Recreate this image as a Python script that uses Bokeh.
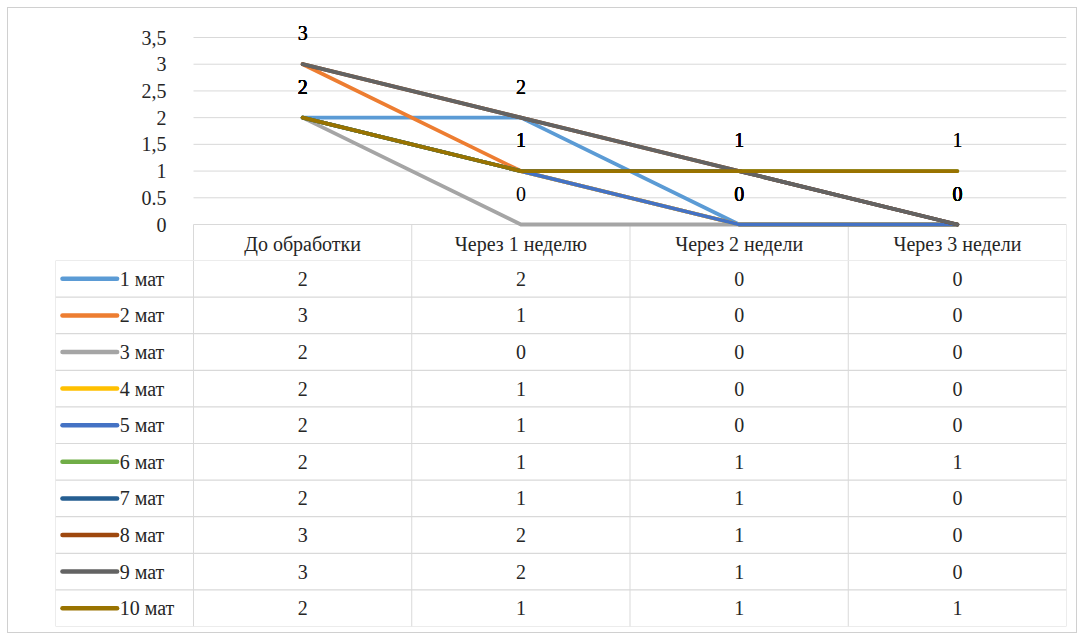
from bokeh.plotting import figure
from bokeh.layouts import column
from bokeh.models import Range1d, FixedTicker, ColumnDataSource
from bokeh.core.properties import value
from bokeh.embed import file_html
from bokeh.resources import INLINE

categories = ["До обработки", "Через 1 неделю", "Через 2 недели", "Через 3 недели"]
series_names = ["1 мат", "2 мат", "3 мат", "4 мат", "5 мат", "6 мат", "7 мат", "8 мат", "9 мат", "10 мат"]
s1 = [2, 2, 0, 0]
s2 = [3, 1, 0, 0]
s3 = [2, 0, 0, 0]
s4 = [2, 1, 0, 0]
s5 = [2, 1, 0, 0]
s6 = [2, 1, 1, 1]
s7 = [2, 1, 1, 0]
s8 = [3, 2, 1, 0]
s9 = [3, 2, 1, 0]
s10 = [2, 1, 1, 1]
series_values = [s1, s2, s3, s4, s5, s6, s7, s8, s9, s10]
colors = ["#5B9BD5", "#ED7D31", "#A5A5A5", "#FFC000", "#4472C4",
          "#70AD47", "#255E91", "#9E480E", "#636363", "#997300"]
y_ticks = [0, 0.5, 1, 1.5, 2, 2.5, 3, 3.5]
y_tick_labels = ["0", "0.5", "1", "1,5", "2", "2,5", "3", "3,5"]

FONT = value("Liberation Serif")
FS = "20px"
TXT = "#262626"
GRID = "#D9D9D9"

# page offset of the bordered chart box: 7px margin + 1px border
OFF = 8
W = 1068
FRAME_L, FRAME_R = 55 - OFF, 1066 - OFF
ncat = len(categories)
unit_px = (FRAME_R - (193 - OFF)) / ncat
left_units = -(193 - 55) / unit_px
xs = [i + 0.5 for i in range(ncat)]

# value scale: 3.5 units = 187 px; plot area runs from page y 16 down to the
# bottom of the table header (page y 260), the value 0 sits at page y 224
px_per_unit = 187 / 3.5
y_top = (224 - 16) / px_per_unit
y_bot = -(260 - 224) / px_per_unit

# ---------------- chart (with category axis as table header) ----------------
p = figure(width=W, height=252, x_range=Range1d(left_units, ncat),
           y_range=Range1d(y_bot, y_top), output_backend="svg", toolbar_location=None,
           min_border_left=FRAME_L, min_border_right=W - FRAME_R,
           min_border_top=16 - OFF, min_border_bottom=0)
p.outline_line_color = None
p.xgrid.visible = False
p.ygrid.visible = False

# y axis sits at the left edge of the plot area (x = 0)
p.yaxis.fixed_location = 0
p.yaxis.ticker = FixedTicker(ticks=y_ticks)
p.yaxis.major_label_overrides = {t: l for t, l in zip(y_ticks, y_tick_labels)}
p.yaxis.axis_line_color = None
p.yaxis.major_tick_line_color = None
p.yaxis.minor_tick_line_color = None
p.yaxis.major_label_standoff = 21
p.yaxis.major_label_text_font = "Liberation Serif"
p.yaxis.major_label_text_font_size = FS
p.yaxis.major_label_text_color = TXT

# category axis (header row of the data table), placed at value 0
p.xaxis.fixed_location = 0
p.xaxis.ticker = FixedTicker(ticks=xs)
p.xaxis.major_label_overrides = {x: c for x, c in zip(xs, categories)}
p.xaxis.axis_line_color = None
p.xaxis.major_tick_line_color = None
p.xaxis.minor_tick_line_color = None
p.xaxis.major_label_standoff = 2
p.xaxis.major_label_text_font = "Liberation Serif"
p.xaxis.major_label_text_font_size = FS
p.xaxis.major_label_text_color = TXT

# horizontal gridlines across the plot area only
p.segment(x0=[0] * len(y_ticks), x1=[ncat] * len(y_ticks), y0=y_ticks, y1=y_ticks,
          line_color=GRID, line_width=1)
# header row cell separators
hx = list(range(ncat + 1))
p.segment(x0=hx, x1=hx, y0=[0] * len(hx), y1=[y_bot] * len(hx), line_color=GRID, line_width=1)

for vals, col in zip(series_values, colors):
    p.line(xs, vals, line_color=col, line_width=3.8, line_join="round", line_cap="round")

for vals in series_values:
    src = ColumnDataSource(dict(x=xs, y=vals, t=[str(v) for v in vals]))
    p.text(x="x", y="y", text="t", source=src, text_font=FONT, text_font_size=FS,
           text_color="#000000", text_align="center", text_baseline="middle", y_offset=-31)

# ---------------- data table ----------------
n = len(series_names)
t = figure(width=W, height=372, x_range=Range1d(left_units, ncat),
           y_range=Range1d(n, 0), output_backend="svg", toolbar_location=None,
           min_border_left=FRAME_L, min_border_right=W - FRAME_R,
           min_border_top=0, min_border_bottom=6)
t.outline_line_color = None
t.xaxis.visible = False
t.yaxis.visible = False
t.xgrid.visible = False
t.ygrid.visible = False

# horizontal rules
t.segment(x0=[left_units] * (n + 1), x1=[ncat] * (n + 1),
          y0=list(range(n + 1)), y1=list(range(n + 1)), line_color=GRID, line_width=1.2)
# vertical rules
vx = [left_units] + list(range(ncat + 1))
t.segment(x0=vx, x1=vx, y0=[0] * len(vx), y1=[n] * len(vx), line_color=GRID, line_width=1)

row_y = [i + 0.5 for i in range(n)]
# legend keys
t.segment(x0=[left_units + 0.032] * n, x1=[-0.35] * n, y0=row_y, y1=row_y,
          line_color=colors, line_width=4.5, line_cap="round")
t.text(x=[-0.338] * n, y=row_y, text=series_names, text_font=FONT, text_font_size=FS,
       text_color=TXT, text_align="left", text_baseline="middle")

# cells
cx, cy, ct = [], [], []
for r, vals in enumerate(series_values):
    for c, v in enumerate(vals):
        cx.append(xs[c]); cy.append(row_y[r]); ct.append(str(v))
t.text(x=cx, y=cy, text=ct, text_font=FONT, text_font_size=FS,
       text_color=TXT, text_align="center", text_baseline="middle")

layout = column(p, t, spacing=0,
                styles={"border": "1px solid #D0D0D0", "margin": "7px"})
open("out.html", "w").write(file_html(layout, INLINE))
